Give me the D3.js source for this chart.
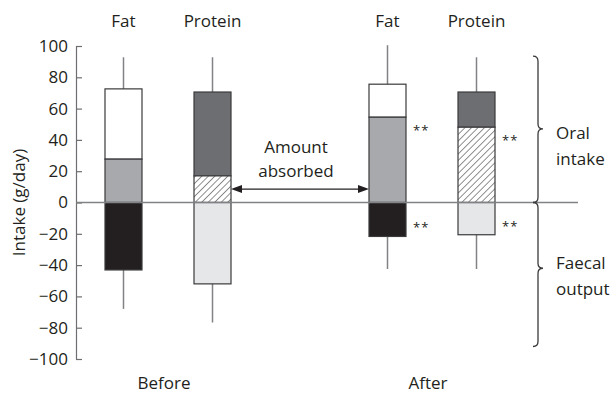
<!DOCTYPE html>
<html>
<head>
<meta charset="utf-8">
<script src="https://cdn.jsdelivr.net/npm/d3@7"></script>
<style>
  html, body { margin: 0; padding: 0; background: #fff; }
  svg { display: block; }
  text { font-family: "Open Sans", "DejaVu Sans", sans-serif; fill: #231f20; }
</style>
</head>
<body>
<svg id="chart" width="613" height="393"></svg>
<script>
// Periods and nutrients
const periods = ["Before", "After"];
const nutrients = ["Fat", "Protein"];

// One entry per bar, ordered Before-Fat, Before-Protein, After-Fat, After-Protein
const barPeriod   = ["Before", "Before", "After", "After"];
const barNutrient = ["Fat", "Protein", "Fat", "Protein"];
const oralIntake  = [72.6, 70.6, 75.6, 70.6];   // g/day, top of stacked bar
const absorbed    = [27.7, 17.0, 54.5, 48.1];   // g/day, absorbed part of intake
const faecal      = [-43.1, -52.0, -21.7, -20.6]; // g/day, faecal output (below zero)
const whiskerHigh = [92.8, 92.8, 100.5, 92.8];
const whiskerLow  = [-68.0, -76.6, -42.5, -42.5];
const significant = [false, false, true, true];

const yTicks = [100, 80, 60, 40, 20, 0, -20, -40, -60, -80, -100];

// Segment fills per nutrient
const fills = {
  Fat:     { unabsorbed: "#ffffff", absorbed: "#a7a9ac", faecal: "#231f20" },
  Protein: { unabsorbed: "#6d6e71", absorbed: "url(#hatch)", faecal: "#e6e7e8" }
};

const FS = 17;
const svg = d3.select("#chart");

const y = d3.scaleLinear().domain([-100, 100]).range([359, 46]);
const xPeriod = d3.scaleBand().domain(periods).range([36, 564]);
const xNutrient = d3.scalePoint().domain(nutrients)
  .range([0, xPeriod.bandwidth()]).padding(0.983);
const barW = 37;
const cx = i => xPeriod(barPeriod[i]) + xNutrient(barNutrient[i]);

// Diagonal hatch pattern
const defs = svg.append("defs");
const pat = defs.append("pattern")
  .attr("id", "hatch").attr("patternUnits", "userSpaceOnUse")
  .attr("width", 4.6).attr("height", 4.6)
  .attr("patternTransform", "rotate(45)");
pat.append("rect").attr("width", 4.6).attr("height", 4.6).attr("fill", "#fff");
pat.append("line").attr("x1", 0).attr("y1", 0).attr("x2", 0).attr("y2", 4.6)
  .attr("stroke", "#231f20").attr("stroke-width", 1);

const axisX = 76;

// Y axis, ticks pointing inward
const axis = d3.axisLeft(y).tickValues(yTicks).tickSizeInner(-6).tickSizeOuter(0)
  .tickPadding(8).tickFormat(d => d < 0 ? "\u2212" + Math.abs(d) : d);
const gAxis = svg.append("g").attr("transform", `translate(${axisX},0)`).call(axis);
gAxis.select(".domain").attr("stroke", "#6d6e71").attr("stroke-width", 1.2);
gAxis.selectAll(".tick line").attr("stroke", "#6d6e71").attr("stroke-width", 1.2);
gAxis.selectAll(".tick text").attr("font-size", FS).attr("fill", "#231f20")
  .style("font-family", '"Open Sans", sans-serif');

svg.append("text")
  .attr("transform", `translate(25,${y(0)}) rotate(-90)`)
  .attr("text-anchor", "middle").attr("font-size", FS)
  .text("Intake (g/day)");

// Whiskers
const idx = d3.range(oralIntake.length);
svg.append("g").selectAll("line").data(idx).join("line")
  .attr("x1", cx).attr("x2", cx)
  .attr("y1", i => y(whiskerHigh[i])).attr("y2", i => y(whiskerLow[i]))
  .attr("stroke", "#808285").attr("stroke-width", 1.5);

// Stacked segments
const segs = [];
idx.forEach(i => {
  const f = fills[barNutrient[i]];
  segs.push({ i, top: oralIntake[i], bot: absorbed[i], fill: f.unabsorbed });
  segs.push({ i, top: absorbed[i], bot: 0, fill: f.absorbed });
  segs.push({ i, top: 0, bot: faecal[i], fill: f.faecal });
});
svg.append("g").selectAll("rect").data(segs).join("rect")
  .attr("x", d => cx(d.i) - barW / 2)
  .attr("width", barW)
  .attr("y", d => y(d.top))
  .attr("height", d => y(d.bot) - y(d.top))
  .attr("fill", d => d.fill)
  .attr("stroke", "#3a3a3c").attr("stroke-width", 1.2);

// Zero line
svg.append("line")
  .attr("x1", axisX).attr("x2", 578)
  .attr("y1", y(0)).attr("y2", y(0))
  .attr("stroke", "#808285").attr("stroke-width", 1.5);

// Significance markers
idx.filter(i => significant[i]).forEach(i => {
  const xs = cx(i) + barW / 2 + 7;
  svg.append("text").attr("x", xs).attr("y", y(absorbed[i]) + 18)
    .attr("font-size", 13).attr("letter-spacing", 1).text("**");
  svg.append("text").attr("x", xs).attr("y", y(faecal[i]) - 4)
    .attr("font-size", 13).attr("letter-spacing", 1).text("**");
});

// Nutrient labels at the top
svg.append("g").selectAll("text").data(idx).join("text")
  .attr("x", cx).attr("y", 27).attr("text-anchor", "middle")
  .attr("font-size", FS).text(i => barNutrient[i]);

// Period labels at the bottom
svg.append("g").selectAll("text").data(periods).join("text")
  .attr("x", p => xPeriod(p) + xPeriod.bandwidth() / 2 - 4)
  .attr("y", 389).attr("text-anchor", "middle")
  .attr("font-size", FS).text(p => p);

// "Amount absorbed" double arrow between Before-Protein and After-Fat
const arrowY = y(8.6);
const ax0 = cx(1) + barW / 2, ax1 = cx(2) - barW / 2;
svg.append("line").attr("x1", ax0 + 9).attr("x2", ax1 - 9)
  .attr("y1", arrowY).attr("y2", arrowY)
  .attr("stroke", "#231f20").attr("stroke-width", 1.3);
svg.append("path")
  .attr("d", `M${ax0},${arrowY} l11,-4 v8 Z M${ax1},${arrowY} l-11,-4 v8 Z`)
  .attr("fill", "#231f20");
const amtX = (ax0 + ax1) / 2 - 4;
svg.append("text").attr("x", amtX).attr("y", 153).attr("text-anchor", "middle")
  .attr("font-size", FS).text("Amount");
svg.append("text").attr("x", amtX).attr("y", 177).attr("text-anchor", "middle")
  .attr("font-size", FS).text("absorbed");

// Curly braces on the right
function brace(x, ya, yb, ym, w) {
  const s = yb > ya ? 1 : -1;
  return `M${x - w},${ya} Q${x},${ya} ${x},${ya + s * w}` +
    ` L${x},${ym - s * w} Q${x},${ym} ${x + w},${ym}` +
    ` Q${x},${ym} ${x},${ym + s * w}` +
    ` L${x},${yb - s * w} Q${x},${yb} ${x - w},${yb}`;
}
const bx = 538;
svg.append("path").attr("d", brace(bx, y(93.5), y(0), y(47), 5))
  .attr("fill", "none").attr("stroke", "#3a3a3c").attr("stroke-width", 1.3);
svg.append("path").attr("d", brace(bx, y(0), y(-92), y(-42), 5))
  .attr("fill", "none").attr("stroke", "#3a3a3c").attr("stroke-width", 1.3);

const labelX = 556;
[["Oral", 139], ["intake", 165], ["Faecal", 269], ["output", 295]].forEach(([t, yy]) => {
  svg.append("text").attr("x", labelX).attr("y", yy).attr("font-size", FS).text(t);
});
</script>
</body>
</html>
